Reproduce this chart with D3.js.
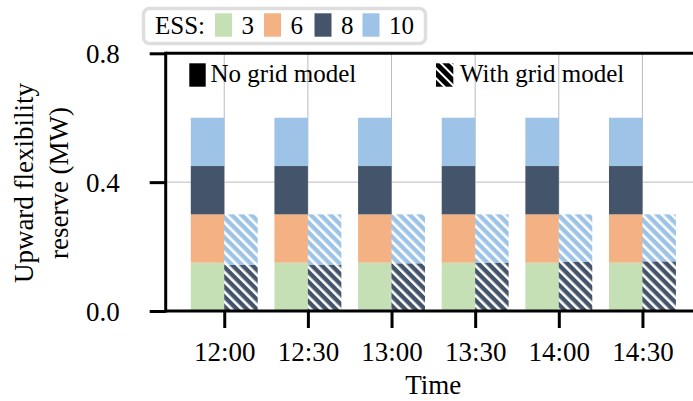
<!DOCTYPE html>
<html>
<head>
<style>
  body { margin: 0; background: #fff; }
  svg text { font-family: "Liberation Serif", "Times New Roman", serif; fill: #000; }
</style>
</head>
<body>
<svg width="693" height="401"></svg>
<script src="https://d3js.org/d3.v7.min.js"></script>
<script>

  var times = ["12:00", "12:30", "13:00", "13:30", "14:00", "14:30"];
  var essLabels = ["3", "6", "8", "10"];
  var essColors = ["#c5e0b4", "#f4b183", "#44546a", "#9dc3e6"];
  var yTicks = [0.0, 0.4, 0.8];

  // no grid model: one value per ESS per time
  var noGrid3 = [0.15, 0.15, 0.15, 0.15, 0.15, 0.15];
  var noGrid6 = [0.15, 0.15, 0.15, 0.15, 0.15, 0.15];
  var noGrid8 = [0.15, 0.15, 0.15, 0.15, 0.15, 0.15];
  var noGrid10 = [0.15, 0.15, 0.15, 0.15, 0.15, 0.15];

  // with grid model: only ESS 8 and 10 provide reserve
  var grid3 = [0, 0, 0, 0, 0, 0];
  var grid6 = [0, 0, 0, 0, 0, 0];
  var grid8 = [0.143, 0.144, 0.148, 0.15, 0.153, 0.154];
  var grid10 = [0.157, 0.156, 0.152, 0.15, 0.147, 0.146];

  var svg = d3.select("svg");
  var serif = "Liberation Serif, Times New Roman, serif";

  var x = d3.scaleLinear().domain([-0.7, 5.7]).range([165.7, 701]);
  var y = d3.scaleLinear().domain([0, 0.8]).range([311, 53.3]);
  var barW = x(0.4) - x(0);

  var defs = svg.append("defs");
  function hatch(id, color, lineWidth) {
    var p = defs.append("pattern")
      .attr("id", id)
      .attr("patternUnits", "userSpaceOnUse")
      .attr("width", 7).attr("height", 7)
      .attr("patternTransform", "rotate(-45)");
    p.append("rect").attr("width", 7).attr("height", 7).attr("fill", color);
    p.append("rect").attr("x", 0).attr("width", lineWidth).attr("height", 7).attr("fill", "#fff");
  }
  essColors.forEach(function (c, i) { hatch("hatch" + i, c, 2.6); });
  hatch("hatchBlack", "#000", 2);

  // grid lines
  var gridG = svg.append("g");
  gridG.selectAll("line.v").data(times).enter().append("line")
    .attr("x1", function (d, i) { return x(i); })
    .attr("x2", function (d, i) { return x(i); })
    .attr("y1", y(0)).attr("y2", y(0.8))
    .attr("stroke", "#bbb").attr("stroke-width", 1);
  gridG.selectAll("line.h").data(yTicks).enter().append("line")
    .attr("x1", x(-0.7)).attr("x2", 693)
    .attr("y1", function (d) { return y(d); })
    .attr("y2", function (d) { return y(d); })
    .attr("stroke", "#bbb").attr("stroke-width", 1);

  function drawStack(series, offset, fillFn) {
    var rows = times.map(function (t, i) {
      var r = { i: i };
      series.forEach(function (s, k) { r[k] = s[i]; });
      return r;
    });
    var stack = d3.stack().keys(d3.range(series.length))(rows);
    stack.forEach(function (layer, k) {
      svg.append("g").selectAll("rect").data(layer).enter().append("rect")
        .filter(function (d) { return d[1] - d[0] > 0; })
        .attr("x", function (d) { return x(d.data.i + offset); })
        .attr("width", barW)
        .attr("y", function (d) { return y(d[1]); })
        .attr("height", function (d) { return y(d[0]) - y(d[1]); })
        .attr("fill", fillFn(k));
    });
  }

  drawStack([noGrid3, noGrid6, noGrid8, noGrid10], -0.4, function (k) { return essColors[k]; });
  drawStack([grid3, grid6, grid8, grid10], 0, function (k) { return "url(#hatch" + k + ")"; });

  // spines
  svg.append("line").attr("x1", x(-0.7)).attr("x2", 700).attr("y1", y(0.8)).attr("y2", y(0.8))
    .attr("stroke", "#000").attr("stroke-width", 3);
  svg.append("line").attr("x1", x(-0.7)).attr("x2", 700).attr("y1", y(0)).attr("y2", y(0))
    .attr("stroke", "#000").attr("stroke-width", 3);
  svg.append("line").attr("x1", x(-0.7)).attr("x2", x(-0.7)).attr("y1", y(0) + 1.5).attr("y2", y(0.8) - 1.5)
    .attr("stroke", "#000").attr("stroke-width", 3);

  // axes
  var yAxis = d3.axisLeft(y).tickValues(yTicks).tickFormat(d3.format(".1f"))
    .tickSizeInner(16).tickSizeOuter(0).tickPadding(30);
  var yG = svg.append("g").attr("transform", "translate(" + x(-0.7) + ",0)").call(yAxis)
    .attr("font-family", serif);
  yG.select(".domain").remove();
  yG.selectAll(".tick line").attr("stroke-width", 3).attr("stroke", "#000");
  yG.selectAll(".tick text").style("font-size", "27px").attr("dy", "0.34em");

  var xAxis = d3.axisBottom(x).tickValues(d3.range(times.length))
    .tickFormat(function (i) { return times[i]; })
    .tickSizeInner(17).tickSizeOuter(0).tickPadding(14);
  var xG = svg.append("g").attr("transform", "translate(0," + y(0) + ")").call(xAxis)
    .attr("font-family", serif);
  xG.select(".domain").remove();
  xG.selectAll(".tick line").attr("stroke-width", 3).attr("stroke", "#000");
  xG.selectAll(".tick text").style("font-size", "27px");

  svg.append("text").attr("x", x(2.5)).attr("y", 394).attr("text-anchor", "middle")
    .style("font-size", "27px").text("Time");

  var yl = svg.append("text").attr("transform", "translate(0," + 183 + ") rotate(-90)")
    .attr("text-anchor", "middle").style("font-size", "27px");
  yl.append("tspan").attr("x", 0).attr("y", 33).text("Upward flexibility");
  yl.append("tspan").attr("x", 0).attr("y", 68).text("reserve (MW)");

  // ESS legend
  svg.append("rect").attr("x", 143.5).attr("y", 8.5).attr("width", 282).attr("height", 35)
    .attr("rx", 6).attr("fill", "#fff").attr("stroke", "#dedede").attr("stroke-width", 3.5);
  svg.append("text").attr("x", 155).attr("y", 34).style("font-size", "25px").text("ESS:");
  var legX = [215, 264, 314.5, 362.5];
  essLabels.forEach(function (lab, i) {
    svg.append("rect").attr("x", legX[i]).attr("y", 13.3).attr("width", 17).attr("height", 23.4)
      .attr("fill", essColors[i]);
    svg.append("text").attr("x", legX[i] + 26.5).attr("y", 34).style("font-size", "25px").text(lab);
  });

  // model legend
  svg.append("rect").attr("x", 189.3).attr("y", 63.3).attr("width", 16.4).attr("height", 23.4).attr("fill", "#000");
  svg.append("text").attr("x", 210.5).attr("y", 82).style("font-size", "25px").text("No grid model");
  svg.append("rect").attr("x", 436).attr("y", 63.3).attr("width", 17.3).attr("height", 23.4).attr("fill", "url(#hatchBlack)");
  svg.append("text").attr("x", 460).attr("y", 82).style("font-size", "25px").text("With grid model");

</script>
</body>
</html>
